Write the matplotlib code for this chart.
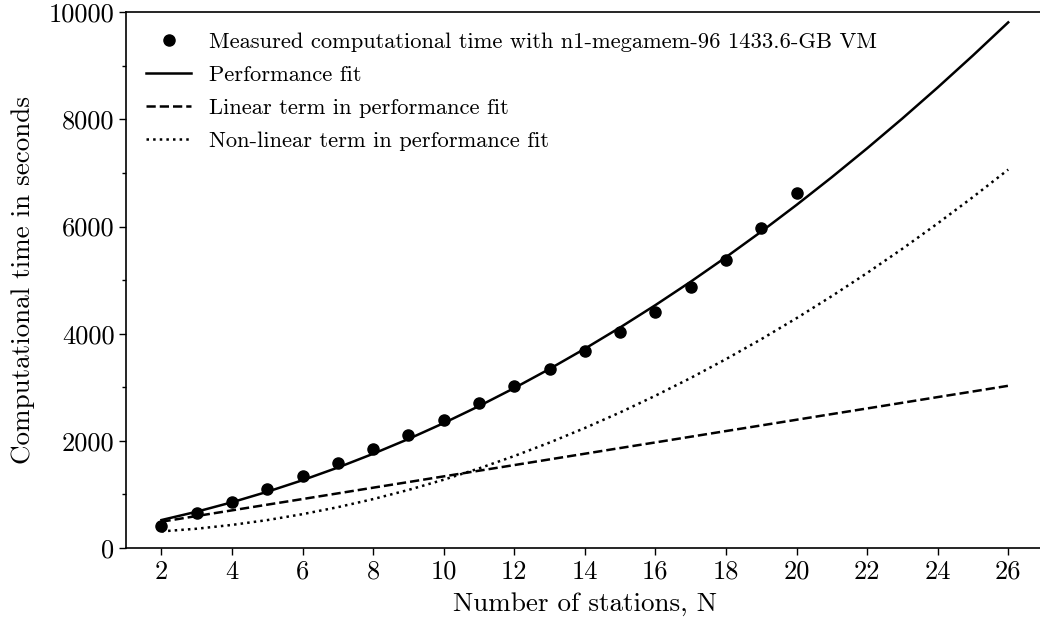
import numpy as np
import matplotlib
matplotlib.use("Agg")
import matplotlib.pyplot as plt
from matplotlib.ticker import MultipleLocator

plt.rcParams['font.family'] = 'serif'
plt.rcParams['font.serif'] = ['cmr10']
plt.rcParams['mathtext.fontset'] = 'cm'
plt.rcParams['axes.unicode_minus'] = False

# measured points
n_meas = np.arange(2, 21)
t_meas = [416, 647, 864, 1095, 1338, 1580, 1841, 2114, 2394, 2700,
          3022, 3334, 3681, 4030, 4403, 4869, 5370, 5976, 6629]

# fit curves read at each N
n_fit = np.arange(2, 27)
t_fit = [522, 678, 854, 1050, 1266, 1502, 1759, 2035, 2332, 2649, 2986, 3343, 3720,
         4117, 4534, 4971, 5429, 5906, 6404, 6922, 7460, 8018, 8596, 9194, 9812]
t_lin = [491, 597, 703, 809, 914, 1020, 1126, 1231, 1337, 1443, 1548, 1654, 1760,
         1866, 1971, 2077, 2183, 2288, 2394, 2500, 2605, 2711, 2817, 2922, 3028]
t_nonlin = [310, 360, 431, 521, 632, 762, 913, 1084, 1275, 1486, 1717, 1968, 2240,
            2531, 2843, 3174, 3526, 3898, 4290, 4702, 5134, 5586, 6059, 6551, 7064]

fig = plt.figure(figsize=(10.4, 6.23), dpi=100)
ax = fig.add_axes([126.2 / 1040, 75 / 623, 917.3 / 1040, 535.7 / 623])

ax.plot(n_meas, t_meas, 'ko', markersize=8,
        label='Measured computational time with n1-megamem-96 1433.6-GB VM')
ax.plot(n_fit, t_fit, 'k-', linewidth=1.8, label='Performance fit')
ax.plot(n_fit, t_lin, 'k--', linewidth=1.8, label='Linear term in performance fit')
ax.plot(n_fit, t_nonlin, 'k:', linewidth=1.8, label='Non-linear term in performance fit')

ax.set_xlim(1, 27)
ax.set_ylim(0, 10000)
ax.set_xticks(np.arange(2, 27, 2))
ax.yaxis.set_major_locator(MultipleLocator(2000))
ax.yaxis.set_minor_locator(MultipleLocator(1000))
ax.tick_params(axis='both', which='major', labelsize=19, length=5, width=1)
ax.tick_params(axis='y', which='minor', length=3, width=1)
ax.spines['right'].set_visible(False)
for s in ['left', 'bottom', 'top']:
    ax.spines[s].set_linewidth(1.2)

ax.set_xlabel('Number of stations, N', fontsize=19.5, labelpad=6)
ax.set_ylabel('Computational time in seconds', fontsize=19.5, labelpad=10)

ax.legend(loc='upper left', frameon=False, fontsize=16.2, borderaxespad=0.5,
          labelspacing=0.58)

fig.savefig('out.png', dpi=100)
